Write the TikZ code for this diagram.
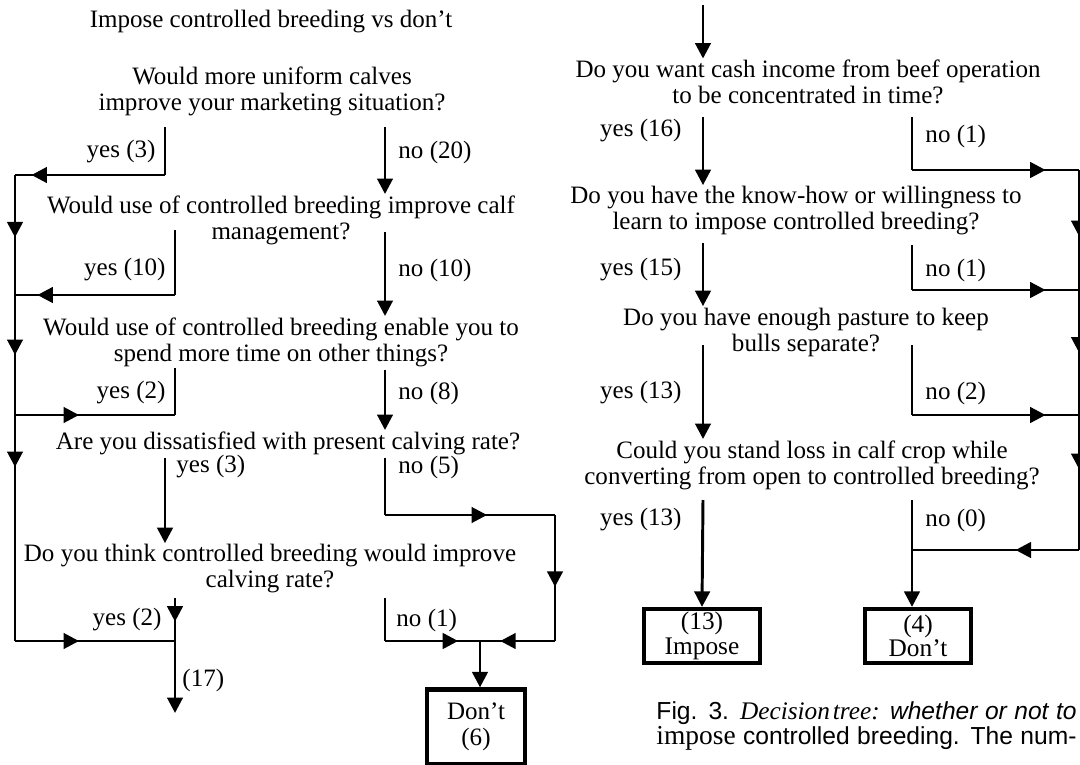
\documentclass[tikz,border=0pt]{standalone}
\usepackage{fontspec}
\setmainfont{Liberation Serif}
\setsansfont{Liberation Sans}
\usetikzlibrary{arrows.meta}
\usetikzlibrary{decorations.markings}
\newcommand\qfont{\fontsize{17.8}{18.5}\selectfont}
\newcommand\boxfont{\fontsize{18}{17.5}\selectfont}
\newcommand\capfont{\fontsize{17.5}{18}\selectfont\sffamily}
\tikzset{every picture/.style={line width=2.1pt}}
\tikzset{
  question/.style={align=center,inner sep=0pt,font=\qfont},
  answer/.style={inner sep=0pt,font=\qfont},
  outcome/.style={draw,line width=3pt,align=center,inner sep=0pt,font=\boxfont},
  tip/.style={-{Triangle[width=11pt,length=11pt]}},
  midtip/.style={postaction={decorate,decoration={markings,mark=at position #1 with {\arrow{Triangle[width=11pt,length=11pt]}}}}},
}

\begin{document}
\begin{tikzpicture}[x=0.025cm,y=-0.025cm]
              \useasboundingbox (0,0) rectangle (1080,764);
              \node[question] (title) at (271,22) {Impose controlled breeding vs don’t};
              \node[question] (q1) at (272,91) {Would more uniform calves\\improve your marketing situation?};
              \node[question] (q2) at (281,220) {Would use of controlled breeding improve calf\\management?};
              \node[question] (q3) at (281,342) {Would use of controlled breeding enable you to\\spend more time on other things?};
              \node[question] (q4) at (288,443) {Are you dissatisfied with present calving rate?};
              \node[question] (q5) at (270,569) {Do you think controlled breeding would improve\\calving rate?};
              \node[outcome,minimum width=2.45cm,minimum height=1.875cm,font=\qfont] (dont6) at (476,727) {Don’t\\(6)};
              \node[answer,anchor=east] (yes3) at (157,152) {yes (3)};
              \node[answer,anchor=west] (no20) at (397,152) {no (20)};
              \node[answer,anchor=east] (yes10) at (167,270) {yes (10)};
              \node[answer,anchor=west] (no10) at (397,270) {no (10)};
              \node[answer,anchor=east] (yes2) at (167,393) {yes (2)};
              \node[answer,anchor=west] (no8) at (397,393) {no (8)};
              \node[answer,anchor=west] (yes3b) at (175,467) {yes (3)};
              \node[answer,anchor=west] (no5) at (397,467) {no (5)};
              \node[answer,anchor=east] (yes2b) at (163,620) {yes (2)};
              \node[answer,anchor=west] (no1) at (395,620) {no (1)};
              \node[answer,anchor=west] (n17) at (181,680) {(17)};
              \coordinate (a1) at (165,127);
              \coordinate (a2) at (165,175);
              \coordinate (l1) at (15,175);
              \coordinate (l2) at (15,295);
              \coordinate (l3) at (15,415);
              \coordinate (l4) at (15,641);
              \coordinate (b1) at (385,127);
              \coordinate (c1) at (175,230);
              \coordinate (c2) at (175,295);
              \coordinate (d1) at (385,232);
              \coordinate (e1) at (175,368);
              \coordinate (e2) at (175,415);
              \coordinate (f1) at (385,370);
              \coordinate (g1) at (165,458);
              \coordinate (h1) at (385,458);
              \coordinate (h2) at (385,515);
              \coordinate (h3) at (555,515);
              \coordinate (h4) at (555,641);
              \coordinate (dj) at (480,641);
              \coordinate (i1) at (385,598);
              \coordinate (i2) at (385,641);
              \coordinate (k1) at (175,598);
              \coordinate (k2) at (175,641);
              \coordinate (k3) at (175,713);
              \draw (a1) -- (a2);
              \draw[midtip=0.89] (a2) -- (l1);
              \draw[midtip=0.52] (l1) -- (l2);
              \draw[midtip=0.5] (l2) -- (l3);
              \draw[midtip=0.23] (l3) -- (l4);
              \draw[midtip=0.4] (l4) -- (k2);
              \draw[tip] (b1) -- (b1 |- q2.north);
              \draw (c1) -- (c2);
              \draw[midtip=0.86] (c2) -- (l2);
              \draw[tip] (d1) -- (d1 |- q3.north);
              \draw (e1) -- (e2);
              \draw[midtip=0.4] (l3) -- (e2);
              \draw[tip] (f1) -- (f1 |- q4.north);
              \draw[tip] (g1) -- (g1 |- q5.north);
              \draw (h1) -- (h2);
              \draw[midtip=0.6] (h2) -- (h3);
              \draw[midtip=0.57] (h3) -- (h4);
              \draw[midtip=0.73] (h4) -- (dj);
              \draw (i1) -- (i2);
              \draw[midtip=0.77] (i2) -- (dj);
              \draw[tip] (dj) -- (dj |- dont6.north);
              \draw[midtip=0.55] (k1) -- (k2);
              \draw[tip] (k2) -- (k3);
              \node[question] (r1) at (808,82) {Do you want cash income from beef operation\\to be concentrated in time?};
              \node[question] (r2) at (796,211) {Do you have the know-how or willingness to\\learn to impose controlled breeding?};
              \node[question] (r3) at (806,332) {Do you have enough pasture to keep\\bulls separate?};
              \node[question] (r4) at (812,465) {Could you stand loss in calf crop while\\converting from open to controlled breeding?};
              \node[outcome,minimum width=2.9cm,minimum height=1.35cm] (impose) at (702,636) {(13)\\Impose};
              \node[outcome,minimum width=2.65cm,minimum height=1.35cm] (dont4) at (918,636) {(4)\\Don’t};
              \node[answer,anchor=east] (yes16) at (683,131) {yes (16)};
              \node[answer,anchor=west] (no1a) at (924,136) {no (1)};
              \node[answer,anchor=east] (yes15) at (683,270) {yes (15)};
              \node[answer,anchor=west] (no1b) at (924,270) {no (1)};
              \node[answer,anchor=east] (yes13) at (683,393) {yes (13)};
              \node[answer,anchor=west] (no2) at (924,393) {no (2)};
              \node[answer,anchor=east] (yes13b) at (683,520) {yes (13)};
              \node[answer,anchor=west] (no0) at (924,520) {no (0)};
              \coordinate (t1) at (703,5);
              \coordinate (m1) at (703,117);
              \coordinate (m2) at (703,243);
              \coordinate (m3) at (703,345);
              \coordinate (m4) at (703,500);
              \coordinate (n1) at (912,117);
              \coordinate (n2) at (912,170);
              \coordinate (n3) at (912,245);
              \coordinate (n4) at (912,290);
              \coordinate (n5) at (912,345);
              \coordinate (n6) at (912,415);
              \coordinate (n7) at (912,500);
              \coordinate (n8) at (912,550);
              \coordinate (s1) at (1079,170);
              \coordinate (s2) at (1079,290);
              \coordinate (s3) at (1079,415);
              \coordinate (s4) at (1079,550);
              \draw[tip] (t1) -- (t1 |- r1.north);
              \draw[tip] (m1) -- (m1 |- r2.north);
              \draw[tip] (m2) -- (m2 |- r3.north);
              \draw[tip] (m3) -- (m3 |- r4.north);
              \draw[tip] (m4) -- (impose.north);
              \draw (n1) -- (n2);
              \draw[midtip=0.8] (n2) -- (s1);
              \draw (n3) -- (n4);
              \draw[midtip=0.8] (n4) -- (s2);
              \draw (n5) -- (n6);
              \draw[midtip=0.8] (n6) -- (s3);
              \draw[tip] (n7) -- (n7 |- dont4.north);
              \draw[midtip=0.38] (s4) -- (n8);
              \draw[midtip=0.55] (s1) -- (s2);
              \draw[midtip=0.5] (s2) -- (s3);
              \draw[midtip=0.4] (s3) -- (s4);
              \node[anchor=base west,inner sep=0pt] (cap1) at (655,719) {\makebox[10.5cm][s]{\capfont Fig. 3. {\rmfamily\itshape\fontsize{18}{18}\selectfont Decision\hspace{2pt}tree:} {\itshape whether or not to}}};
              \node[anchor=base west,inner sep=0pt] (cap2) at (655,744) {\makebox[10.5cm][s]{\capfont {\rmfamily\fontsize{19.5}{18}\selectfont impose} controlled breeding. The num-}};
\end{tikzpicture}
\end{document}
